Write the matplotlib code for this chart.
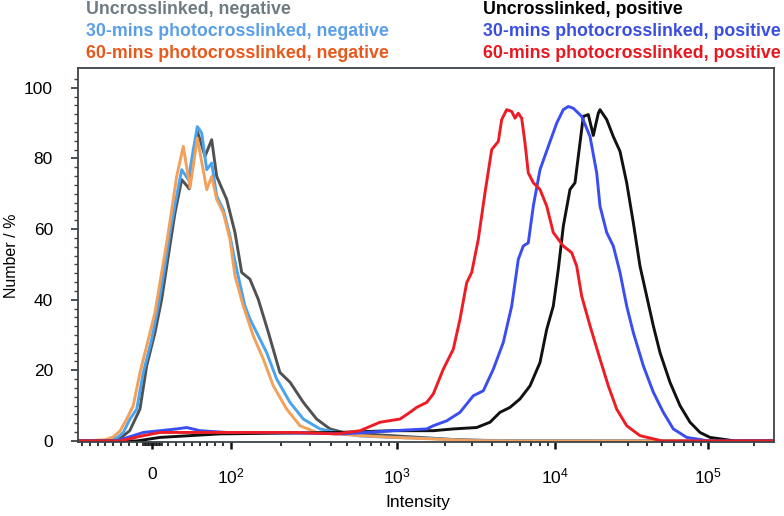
import numpy as np
import matplotlib
matplotlib.use("Agg")
import matplotlib.pyplot as plt
from matplotlib.ticker import FixedLocator, NullFormatter

plt.rcParams['font.family'] = ['Liberation Sans', 'DejaVu Sans']
plt.rcParams['mathtext.fontset'] = 'custom'
plt.rcParams['mathtext.rm'] = 'Liberation Sans'
plt.rcParams['mathtext.default'] = 'rm'

# ---- data (intensity, number %) ----
unx_neg_x = [-94.9, -51, -39, -29, -16, -7.4, 3.2, 11.7, 20.1, 28.7, 37.2, 46.9, 57.1, 66.9, 75.4,
             81.8, 94.5, 105.7, 116, 130, 146, 168, 197, 227, 273, 328, 395, 475, 790, 1398,
             2272, 4487, 2.7e5]
unx_neg_y = [0, 0.1, 1.1, 2.9, 9, 21.3, 30.7, 40.1, 52.3, 64.6, 74, 71.4, 87.7, 80.6, 85.3,
             74.9, 68.4, 59, 47.7, 45.8, 40.1, 30.7, 19.4, 16.6, 10.9, 6.2, 3.4, 2.4, 1.7, 1.0,
             0.4, 0.05, 0]

m30_neg_x = [-94.9, -54, -44, -37.2, -28.7, -20.1, -11.7, -1, 7.4, 15.9, 22.3, 29.9, 37.2, 45.6,
             52, 57.1, 62.7, 69.1, 75.4, 81.8, 90.2, 98.7, 108.2, 121.4, 130.2, 142.8, 164, 188.5,
             226.7, 272.6, 343.7, 433, 599, 950, 1618, 2897, 5000, 2.7e5]
m30_neg_y = [0, 0.1, 1.1, 2.4, 6.2, 9, 19.4, 28.8, 38.2, 49.5, 59, 68.4, 76.8, 74,
             82.5, 89, 87.2, 76.8, 78.7, 69.3, 65.5, 58, 48.6, 38.2, 34.5, 30.7, 25, 17.5,
             10.9, 6.2, 3.4, 2.4, 1.4, 1.0, 0.7, 0.1, 0, 0]

m60_neg_x = [-94.9, -60.5, -50.4, -41.4, -32.9, -24.5, -15.9, -7.4, 3.2, 11.7, 18.1, 24.5, 30.8,
             39.2, 47.8, 57.1, 69.1, 75.4, 81.8, 90.2, 98.7, 105.7, 118.6, 136.3, 156.5, 179.8,
             216.6, 260.4, 328.3, 433, 599, 950, 1618, 2897, 5000, 2.7e5]
m60_neg_y = [0, 0.3, 1.1, 2.8, 6.2, 10, 19.4, 26.9, 36.4, 47.7, 56.1, 65.5, 74.9,
             83.4, 71.7, 85.8, 71.2, 74.9, 68.4, 64.6, 57.1, 46.7, 38.2, 29.7, 23.2, 15.6,
             9, 4.3, 2.4, 2.0, 1.5, 1.0, 0.6, 0.1, 0, 0]

unx_pos_x = [-94.9, -20.1, 9.6, 86, 433, 950, 1697, 2272, 3195, 3879, 4487, 5191, 6004, 6947,
             8037, 8863, 9755, 10510, 11331, 12531, 13510, 14568, 15311, 16510, 17796, 19187,
             19684, 21774, 24044, 26595, 29416, 32498, 35938, 39744, 43910, 48573, 56432,
             65615, 76283, 88661, 103058, 119781, 150000, 2.7e5]
unx_pos_y = [0, 0, 1.0, 2.0, 2.4, 2.9, 2.9, 3.4, 3.8, 5.3, 8.1, 9.5, 11.9, 15.6,
             22.2, 31.6, 38.2, 48.6, 60.8, 71.2, 73.1, 84.4, 91.9, 92.4, 86.5, 92.8,
             93.8, 91, 86.2, 82, 73.1, 61.8, 49.5, 41, 32.6, 25, 16.6,
             10, 5.3, 2.4, 1, 0.6, 0, 0]

m30_pos_x = [-94.9, -45.6, -11.7, 9.6, 30.8, 43.6, 60.5, 94.5, 237, 475, 950, 1541, 1697, 2064,
             2505, 3041, 3518, 4069, 4707, 5321, 5857, 6300, 6776, 7290, 8037, 9071, 10259,
             11331, 12217, 13169, 14944, 16941, 18731, 19684, 21774, 24044, 26595, 29416,
             32498, 37768, 43910, 51037, 59325, 72560, 88661, 100000, 2.7e5]
m30_pos_y = [0, 0, 2.4, 2.9, 3.4, 3.8, 2.9, 2.4, 2.3, 2.0, 2.9, 3.4, 4.3, 5.7,
             8.1, 12.8, 14.2, 20.3, 27.9, 38.2, 51.4, 55.2, 56.1, 66.5, 76.8, 83.4, 90,
             93.8, 94.7, 94.2, 91.9, 86.2, 75.9, 66.5, 59, 55.2, 47.7, 38.2,
             30.7, 21.3, 13.8, 8.1, 3.4, 1, 0.4, 0, 0]

m60_pos_x = [-94.9, -41.4, -11.7, 9.6, 60.5, 237, 433, 599, 790, 1044, 1208, 1332, 1541, 1697,
             1963, 2272, 2505, 2761, 2970, 3270, 3606, 3976, 4377, 4599, 4946, 5321, 5583,
             5857, 6154, 6457, 6776, 7290, 8037, 8863, 9755, 11331, 12856, 13860, 14944,
             16941, 19684, 22306, 25310, 29416, 35938, 43910, 50000, 2.7e5]
m60_pos_y = [0, 0, 1.5, 2.4, 2.4, 2.4, 2.0, 2.9, 5.3, 6.2, 8.1, 9.5, 10.9, 13.3,
             20.3, 26, 34.5, 44.8, 47.7, 57.1, 70.3, 82.5, 84.8, 91, 93.8, 93.3, 91.4,
             92.8, 91.4, 84.4, 75.9, 73.1, 71.2, 66.5, 59, 55.2, 53.3, 49.5, 41,
             32.6, 23.2, 15.6, 9, 4.3, 1.5, 0.6, 0, 0]

labels = ['Uncrosslinked, negative', '30-mins photocrosslinked, negative',
          '60-mins photocrosslinked, negative', 'Uncrosslinked, positive',
          '30-mins photocrosslinked, positive', '60-mins photocrosslinked, positive']
line_colors = ['#4f5254', '#4aa3ee', '#f2a05a', '#111111', '#3a4df0', '#ee1d25']
text_colors = ['#6e7b82', '#5b9ee8', '#e8581c', '#000000', '#3a4fe0', '#e8171f']

major_ticks = [0, 100, 1e3, 1e4, 1e5]
major_labels = ['0', r'$10^{2}$', r'$10^{3}$', r'$10^{4}$', r'$10^{5}$']


# ---- biexponential-like axis: linear up to 100, log above ----
U_ANCH = np.array([-3.0, -1.0, 0.0, 1.0, 2.0, 3.0, 4.0, 5.0])
P_ANCH = np.array([-83.0, 74.0, 152.5, 231.0, 397.0, 555.0, 708.0, 861.0])


def to_u(x):
    x = np.asarray(x, dtype=float)
    a = np.abs(x)
    safe = np.maximum(a, 1e-12)
    return np.where(a <= 100, x / 100.0, np.sign(x) * (1 + np.log10(safe / 100.0)))


def fwd(x):
    return np.interp(to_u(x), U_ANCH, P_ANCH)


def inv(p):
    u = np.interp(np.asarray(p, dtype=float), P_ANCH, U_ANCH)
    a = np.abs(u)
    return np.where(a <= 1, 100.0 * u, np.sign(u) * 100.0 * 10 ** (a - 1))


fig = plt.figure(figsize=(7.84, 5.16), dpi=100)
ax = fig.add_axes([78 / 784, 1 - 442 / 516, (774 - 78) / 784, (442 - 68) / 516])
ax.set_xscale('function', functions=(fwd, inv))

series = [(unx_neg_x, unx_neg_y), (m30_neg_x, m30_neg_y), (m60_neg_x, m60_neg_y),
          (unx_pos_x, unx_pos_y), (m30_pos_x, m30_pos_y), (m60_pos_x, m60_pos_y)]
for (xs, ys), c in zip(series, line_colors):
    ax.plot(xs, ys, color=c, lw=2.1, solid_joinstyle='round')

ax.set_xlim(-94.9, 2.7e5)
ax.set_ylim(-0.3, 105.6)

# x ticks
minor = list(range(-90, -10, 10)) + list(range(-12, 13, 2)) + list(range(20, 100, 10))
for dec in [100, 1000, 10000]:
    minor += [dec * k for k in range(2, 10)]
minor += [2e5]
ax.xaxis.set_major_locator(FixedLocator(major_ticks))
ax.set_xticklabels(major_labels)
ax.xaxis.set_minor_locator(FixedLocator(minor))
ax.xaxis.set_minor_formatter(NullFormatter())

# y ticks
ax.set_yticks([0, 20, 40, 60, 80, 100])
ax.yaxis.set_minor_locator(FixedLocator(np.arange(0, 105, 2.5)))

spine_col = '#3d4347'
for s in ax.spines.values():
    s.set_color(spine_col)
    s.set_linewidth(1.3)
ax.tick_params(axis='x', which='major', direction='out', length=5, width=1.8,
               color='#111111', labelsize=12.5, pad=13)
ax.tick_params(axis='x', which='minor', direction='out', length=3, width=1.2, color='#111111')
ax.tick_params(axis='y', which='major', direction='out', length=5, width=1.3,
               color=spine_col, labelsize=12.5, pad=13)
ax.tick_params(axis='y', which='minor', direction='out', length=3, width=1.0, color=spine_col)

fig.text(418 / 784, 1 - 503 / 516, 'Intensity', ha='center', va='center', fontsize=12.5)
fig.text(12 / 784, 1 - 256 / 516, 'Number / %', ha='center', va='center',
         rotation=90, fontsize=11.5)

# legend as coloured text
rows_y = [10, 32, 54]
for i, (lab, tc) in enumerate(zip(labels, text_colors)):
    x0 = 86 if i < 3 else 483
    fig.text(x0 / 784, 1 - rows_y[i % 3] / 516, lab, color=tc, fontsize=12.8,
             fontweight='bold', ha='left', va='center')

fig.savefig('out.png', dpi=100)
